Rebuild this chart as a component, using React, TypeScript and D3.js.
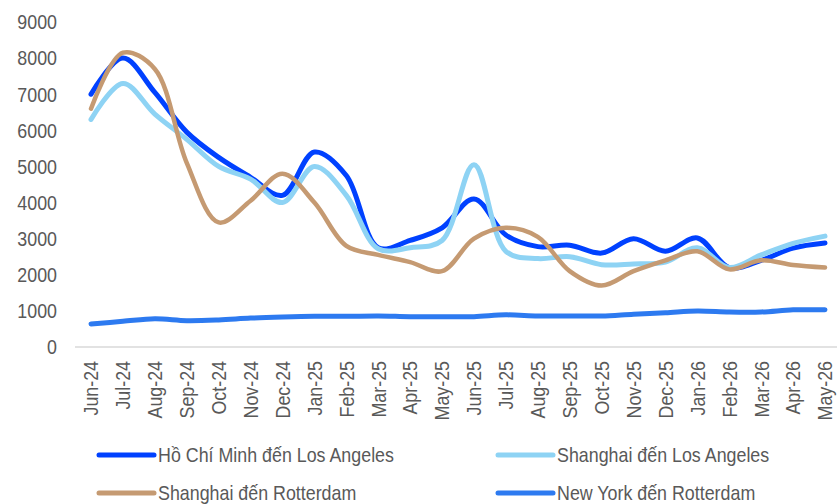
import React from 'react';
import * as d3 from 'd3';

const months = [
  'Jun-24', 'Jul-24', 'Aug-24', 'Sep-24', 'Oct-24', 'Nov-24', 'Dec-24', 'Jan-25',
  'Feb-25', 'Mar-25', 'Apr-25', 'May-25', 'Jun-25', 'Jul-25', 'Aug-25', 'Sep-25',
  'Oct-25', 'Nov-25', 'Dec-25', 'Jan-26', 'Feb-26', 'Mar-26', 'Apr-26', 'May-26',
];

const hcmLA = [7000, 8000, 7050, 5950, 5250, 4700, 4200, 5400, 4750, 2750, 2950, 3300,
  4100, 3100, 2780, 2820, 2600, 3000, 2650, 3020, 2200, 2400, 2740, 2880];
const shLA = [6300, 7300, 6450, 5750, 5000, 4650, 4000, 5000, 4200, 2720, 2750, 2950,
  5050, 2650, 2450, 2500, 2280, 2300, 2350, 2750, 2200, 2550, 2870, 3070];
const shRot = [6600, 8150, 7700, 5100, 3450, 4050, 4800, 4000, 2800, 2550, 2350, 2100,
  3000, 3300, 3050, 2100, 1700, 2100, 2400, 2650, 2150, 2400, 2270, 2200];
const nyRot = [640, 710, 780, 730, 750, 800, 830, 850, 850, 860, 840, 840,
  840, 890, 860, 860, 860, 910, 950, 1000, 970, 970, 1030, 1030];

const yTicks = [0, 1000, 2000, 3000, 4000, 5000, 6000, 7000, 8000, 9000];

const series = [
  { name: 'Hồ Chí Minh đến Los Angeles', values: hcmLA, color: '#0041ff' },
  { name: 'Shanghai đến Los Angeles', values: shLA, color: '#8ed3f4' },
  { name: 'Shanghai đến Rotterdam', values: shRot, color: '#c59a72' },
  { name: 'New York đến Rotterdam', values: nyRot, color: '#2d7af0' },
];

const W = 837;
const H = 504;
const FONT = '"Liberation Sans", Arial, sans-serif';
const TEXT = '#595959';
const FS = 21;
const SX = 0.85; // narrow look of the original font

export default function App() {
  const x = d3.scalePoint<string>().domain(months).range([91, 825]);
  const y = d3.scaleLinear().domain([0, 9000]).range([347, 22]);

  const line = d3.line<number>()
    .x((_, i) => x(months[i]) as number)
    .y(d => y(d))
    .curve(d3.curveCatmullRom.alpha(0.5));

  const legendPos = [
    { lx: 99, ly: 455 },
    { lx: 498, ly: 455 },
    { lx: 99, ly: 493 },
    { lx: 498, ly: 493 },
  ];

  return (
    <div style={{ position: 'fixed', left: 0, top: 0 }}>
      <svg width={W} height={H} style={{ display: 'block', background: '#fff' }}>
        {/* y labels */}
        {yTicks.map(t => (
          <text key={t}
            transform={`translate(57,${y(t)}) scale(${SX},1)`}
            textAnchor="end" dy="0.35em"
            fontFamily={FONT} fontSize={FS} fill={TEXT}>{t}</text>
        ))}

        {/* x axis */}
        <line x1={75} x2={837} y1={y(0)} y2={y(0)} stroke="#d9d9d9" strokeWidth={1.5} />
        {months.map(m => (
          <text key={m}
            transform={`translate(${x(m)},361) rotate(-90) scale(${SX},1)`}
            textAnchor="end" dy="0.35em"
            fontFamily={FONT} fontSize={FS} fill={TEXT}>{m}</text>
        ))}

        {/* lines */}
        {series.map(s => (
          <path key={s.name} d={line(s.values) || ''} fill="none"
            stroke={s.color} strokeWidth={s.name.startsWith('Shanghai đến R') ? 4.5 : 5}
            strokeLinecap="round" strokeLinejoin="round" />
        ))}

        {/* legend */}
        {series.map((s, i) => {
          const p = legendPos[i];
          return (
            <g key={s.name}>
              <line x1={p.lx} x2={p.lx + 55} y1={p.ly} y2={p.ly}
                stroke={s.color} strokeWidth={5} strokeLinecap="round" />
              <text transform={`translate(${p.lx + 59},${p.ly}) scale(${SX},1)`}
                dy="0.35em" fontFamily={FONT} fontSize={FS} fill={TEXT}>{s.name}</text>
            </g>
          );
        })}
      </svg>
    </div>
  );
}
